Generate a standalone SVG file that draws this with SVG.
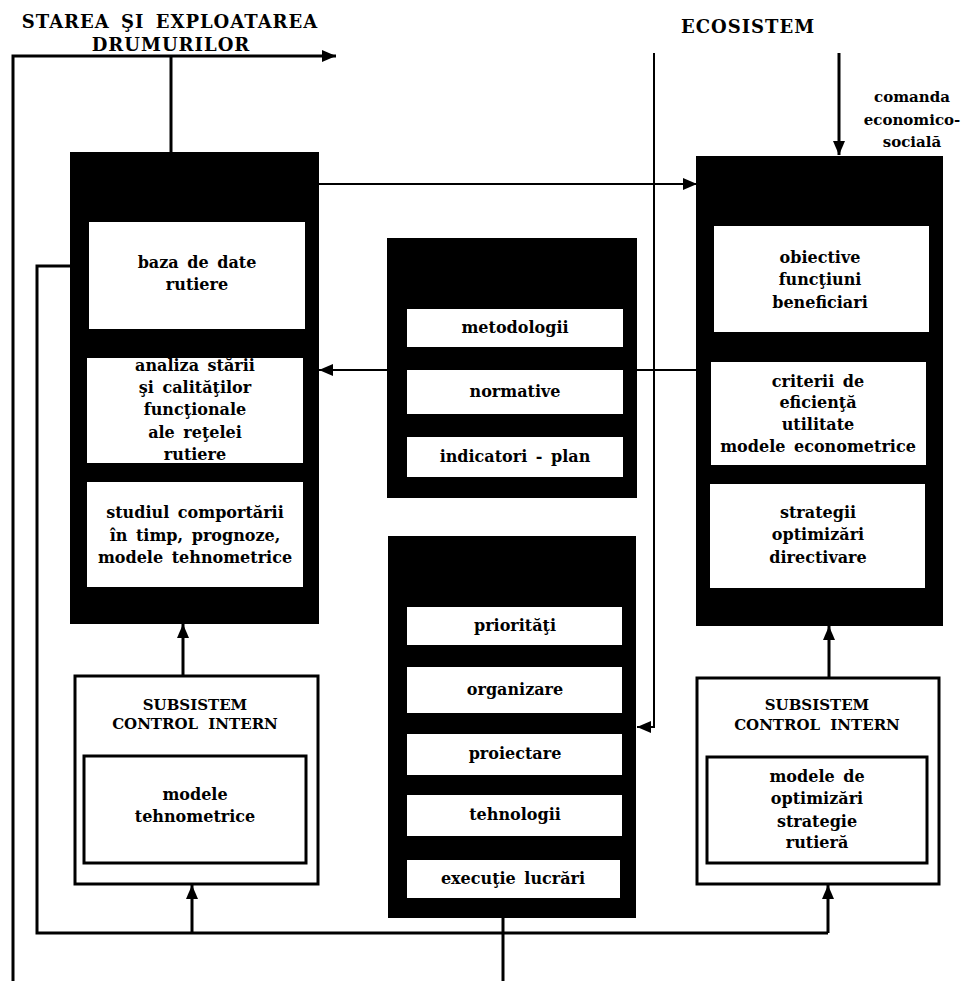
<svg xmlns="http://www.w3.org/2000/svg" width="964" height="981" viewBox="0 0 964 981">
<style>
text{font-family:"DejaVu Serif","Liberation Serif",serif;font-weight:bold;fill:#000;text-anchor:middle}
.t{font-size:16px;word-spacing:3px}
.h{font-size:18px;word-spacing:4px;letter-spacing:1px}
.s{font-size:15px;word-spacing:5px}
.c{font-size:15px}
.blk{fill:#000}
.wb{fill:#fff}
.ob{fill:#fff;stroke:#000;stroke-width:3}
.ln{fill:none;stroke:#000;stroke-width:3}
.ln2{fill:none;stroke:#000;stroke-width:2}
</style>
<defs>
<marker id="ah" markerUnits="userSpaceOnUse" markerWidth="14" markerHeight="12" refX="14" refY="6" orient="auto">
<path d="M0,0 L14,6 L0,12 Z" fill="#000"/>
</marker>
</defs>
<rect width="964" height="981" fill="#fff"/>
<g id="labels">
<text class="h" x="170" y="28">STAREA ŞI EXPLOATAREA</text>
<text class="h" x="171" y="51">DRUMURILOR</text>
<text class="h" x="748" y="33">ECOSISTEM</text>
<text class="c" x="912" y="102">comanda</text>
<text class="c" x="912" y="125">economico-</text>
<text class="c" x="912" y="147">socială</text>
</g>
<g id="connectors">
<polyline class="ln" points="13,981 13,56 336,56" marker-end="url(#ah)"/>
<line class="ln" x1="171" y1="56" x2="171" y2="152"/>
<line class="ln2" x1="319" y1="184" x2="697" y2="184" marker-end="url(#ah)"/>
<polyline class="ln2" points="654,53 654,727 637,727" marker-end="url(#ah)"/>
<line class="ln" x1="839" y1="53" x2="839" y2="155" marker-end="url(#ah)"/>
<line class="ln2" x1="696" y1="370" x2="319" y2="370" marker-end="url(#ah)"/>
<polyline class="ln" points="70,266 37,266 37,933 828,933"/>
<line class="ln" x1="192" y1="933" x2="192" y2="885" marker-end="url(#ah)"/>
<line class="ln" x1="828" y1="933" x2="828" y2="885" marker-end="url(#ah)"/>
<line class="ln" x1="503" y1="918" x2="503" y2="981"/>
<line class="ln" x1="183" y1="676" x2="183" y2="624" marker-end="url(#ah)"/>
<line class="ln" x1="829" y1="677" x2="829" y2="626" marker-end="url(#ah)"/>
</g>
<g id="left-system">
<rect class="blk" x="70" y="152" width="249" height="472"/>
<rect class="wb" x="89" y="222" width="216" height="107"/>
<text class="t" x="197" y="268">baza de date</text>
<text class="t" x="197" y="290">rutiere</text>
<rect class="wb" x="87" y="358" width="216" height="105"/>
<text class="t" x="195" y="371">analiza stării</text>
<text class="t" x="195" y="393">şi calităţilor</text>
<text class="t" x="195" y="415">funcţionale</text>
<text class="t" x="195" y="438">ale reţelei</text>
<text class="t" x="195" y="460">rutiere</text>
<rect class="wb" x="87" y="482" width="216" height="105"/>
<text class="t" x="195" y="518">studiul comportării</text>
<text class="t" x="195" y="541">în timp, prognoze,</text>
<text class="t" x="195" y="563">modele tehnometrice</text>
</g>
<g id="norms">
<rect class="blk" x="387" y="238" width="250" height="260"/>
<rect class="wb" x="407" y="309" width="216" height="38"/>
<text class="t" x="515" y="333">metodologii</text>
<rect class="wb" x="407" y="370" width="216" height="44"/>
<text class="t" x="515" y="397">normative</text>
<rect class="wb" x="407" y="437" width="216" height="40"/>
<text class="t" x="515" y="462">indicatori - plan</text>
</g>
<g id="execution">
<rect class="blk" x="388" y="536" width="248" height="382"/>
<rect class="wb" x="407" y="607" width="215" height="38"/>
<text class="t" x="515" y="631">priorităţi</text>
<rect class="wb" x="407" y="667" width="215" height="46"/>
<text class="t" x="515" y="695">organizare</text>
<rect class="wb" x="407" y="734" width="215" height="41"/>
<text class="t" x="515" y="759">proiectare</text>
<rect class="wb" x="407" y="795" width="215" height="41"/>
<text class="t" x="515" y="820">tehnologii</text>
<rect class="wb" x="407" y="860" width="213" height="38"/>
<text class="t" x="513" y="884">execuţie lucrări</text>
</g>
<g id="right-system">
<rect class="blk" x="696" y="156" width="247" height="470"/>
<rect class="wb" x="714" y="226" width="215" height="106"/>
<text class="t" x="820" y="263">obiective</text>
<text class="t" x="820" y="285">funcţiuni</text>
<text class="t" x="820" y="308">beneficiari</text>
<rect class="wb" x="711" y="362" width="215" height="103"/>
<text class="t" x="818" y="387">criterii de</text>
<text class="t" x="818" y="408">eficienţă</text>
<text class="t" x="818" y="430">utilitate</text>
<text class="t" x="818" y="452">modele econometrice</text>
<rect class="wb" x="710" y="484" width="215" height="104"/>
<text class="t" x="818" y="518">strategii</text>
<text class="t" x="818" y="540">optimizări</text>
<text class="t" x="818" y="563">directivare</text>
</g>
<g id="left-control">
<rect class="ob" x="75" y="676" width="243" height="208"/>
<text class="s" x="195" y="710">SUBSISTEM</text>
<text class="s" x="195" y="729">CONTROL INTERN</text>
<rect class="ob" x="84" y="756" width="222" height="107"/>
<text class="t" x="195" y="800">modele</text>
<text class="t" x="195" y="822">tehnometrice</text>
</g>
<g id="right-control">
<rect class="ob" x="697" y="678" width="242" height="206"/>
<text class="s" x="817" y="710">SUBSISTEM</text>
<text class="s" x="817" y="730">CONTROL INTERN</text>
<rect class="ob" x="707" y="757" width="220" height="106"/>
<text class="t" x="817" y="782">modele de</text>
<text class="t" x="817" y="804">optimizări</text>
<text class="t" x="817" y="827">strategie</text>
<text class="t" x="817" y="848">rutieră</text>
</g>
</svg>
